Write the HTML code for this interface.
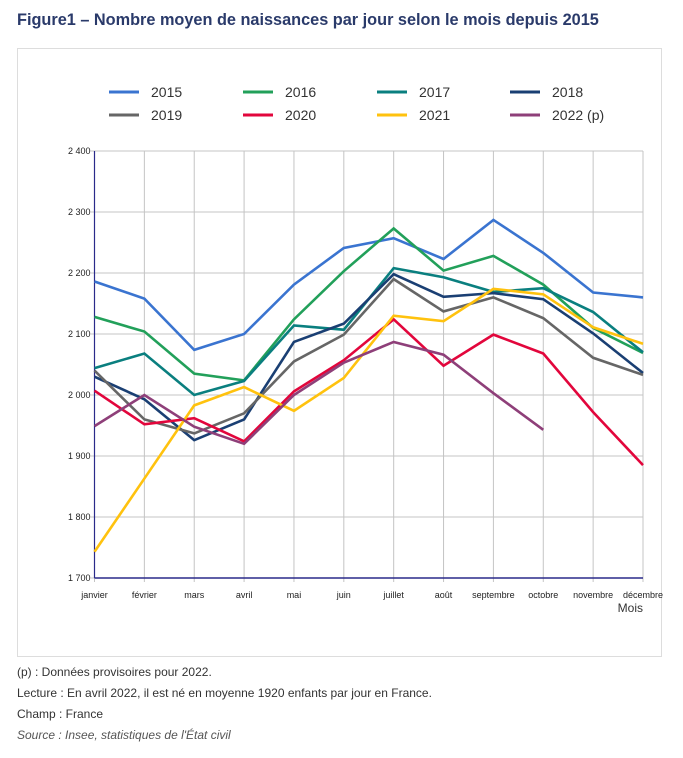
<!DOCTYPE html>
<html><head><meta charset="utf-8"><style>
body{margin:0;width:683px;height:758px;background:#fff;font-family:"Liberation Sans",sans-serif;overflow:hidden;position:relative}
.title{position:absolute;left:17px;top:11px;font-size:16.3px;font-weight:bold;color:#2a3a6a}
.panel{position:absolute;left:17px;top:48px;width:643px;height:607px;border:1px solid #ddd}
.note{position:absolute;left:17px;font-size:12px;color:#333}
</style></head><body>
<div class="title">Figure1 – Nombre moyen de naissances par jour selon le mois depuis 2015</div>
<div class="panel"></div>
<svg id="c" width="683" height="758" style="position:absolute;left:0;top:0"></svg>
<div class="note" style="top:665px">(p) : Données provisoires pour 2022.</div>
<div class="note" style="top:686px">Lecture : En avril 2022, il est né en moyenne 1920 enfants par jour en France.</div>
<div class="note" style="top:707px">Champ : France</div>
<div class="note" style="top:728px;font-style:italic;color:#555">Source : Insee, statistiques de l'État civil</div>
<script>
const months=["janvier","février","mars","avril","mai","juin","juillet","août","septembre","octobre","novembre","décembre"];
const seriesNames=["2015","2016","2017","2018","2019","2020","2021","2022 (p)"];
const seriesColors=["#3a74d0","#22a05a","#0a7f7f","#1a3f73","#666666","#e2063c","#ffc20e","#8e3f79"];
const s2015=[2186,2158,2074,2100,2181,2241,2257,2223,2287,2233,2168,2160];
const s2016=[2128,2104,2035,2024,2124,2203,2273,2204,2228,2181,2110,2069];
const s2017=[2044,2068,2000,2023,2114,2107,2208,2193,2169,2175,2136,2070];
const s2018=[2030,1993,1926,1960,2087,2117,2198,2161,2167,2157,2101,2036];
const s2019=[2040,1960,1937,1970,2055,2099,2190,2137,2160,2126,2061,2033];
const s2020=[2007,1952,1962,1924,2006,2057,2124,2048,2099,2068,1972,1885];
const s2021=[1743,1863,1983,2013,1974,2028,2130,2121,2174,2165,2111,2084];
const s2022=[1949,2000,1948,1920,2000,2053,2087,2066,2003,1943];
const yTicks=[1700,1800,1900,2000,2100,2200,2300,2400];
const yTickLabels=["1 700","1 800","1 900","2 000","2 100","2 200","2 300","2 400"];
const allSeries=[s2015,s2016,s2017,s2018,s2019,s2020,s2021,s2022];
const NS="http://www.w3.org/2000/svg",svg=document.getElementById("c");
const X0=94.5,X1=643,Y0=578,Y1=151;
const x=i=>X0+i*(X1-X0)/(months.length-1);
const y=v=>Y0-(v-1700)/(2400-1700)*(Y0-Y1);
function mk(t,a,p){const e=document.createElementNS(NS,t);for(const k in a)e.setAttribute(k,a[k]);(p||svg).appendChild(e);return e;}
yTicks.forEach((t,i)=>{
 const g=mk("line",{x1:X0-4,x2:X1,y1:y(t),y2:y(t),stroke:"#c4c4c4","stroke-width":1});
 
 
 const l=mk("text",{x:X0-4,y:y(t)+3,"text-anchor":"end","font-size":9,fill:"#222"});l.textContent=yTickLabels[i];
 
 
});
months.forEach((m,i)=>{
 const g=mk("line",{x1:x(i),x2:x(i),y1:Y1,y2:Y0+4,stroke:"#c4c4c4","stroke-width":1});
 
 
 const l=mk("text",{x:x(i),y:Y0+20,"text-anchor":"middle","font-size":9,fill:"#222"});l.textContent=m;
 
 
});
const ax=mk("line",{x1:X0,x2:X0,y1:Y1,y2:Y0,stroke:"#2a2a8a","stroke-width":1.2});


const bx=mk("line",{x1:X0,x2:X1,y1:Y0,y2:Y0,stroke:"#2a2a8a","stroke-width":1.5});


const mt=mk("text",{x:643,y:612,"text-anchor":"end","font-size":12,fill:"#333"});mt.textContent="Mois";


allSeries.forEach((s,k)=>{
 const p=mk("polyline",{points:s.map((v,i)=>x(i)+","+y(v)).join(" "),fill:"none",stroke:seriesColors[k],"stroke-width":2.6,"stroke-linejoin":"miter"});
 
 
});
const lx=[109,243,377,510];
seriesNames.forEach((n,k)=>{
 const cx=lx[k%4],cy=k<4?92:115;
 const g=mk("g",{});
 
 
 mk("line",{x1:cx,x2:cx+30,y1:cy,y2:cy,stroke:seriesColors[k],"stroke-width":3},g);
 const t=mk("text",{x:cx+42,y:cy+5,"font-size":14,fill:"#333"},g);t.textContent=n;
});
</script>
</body></html>
